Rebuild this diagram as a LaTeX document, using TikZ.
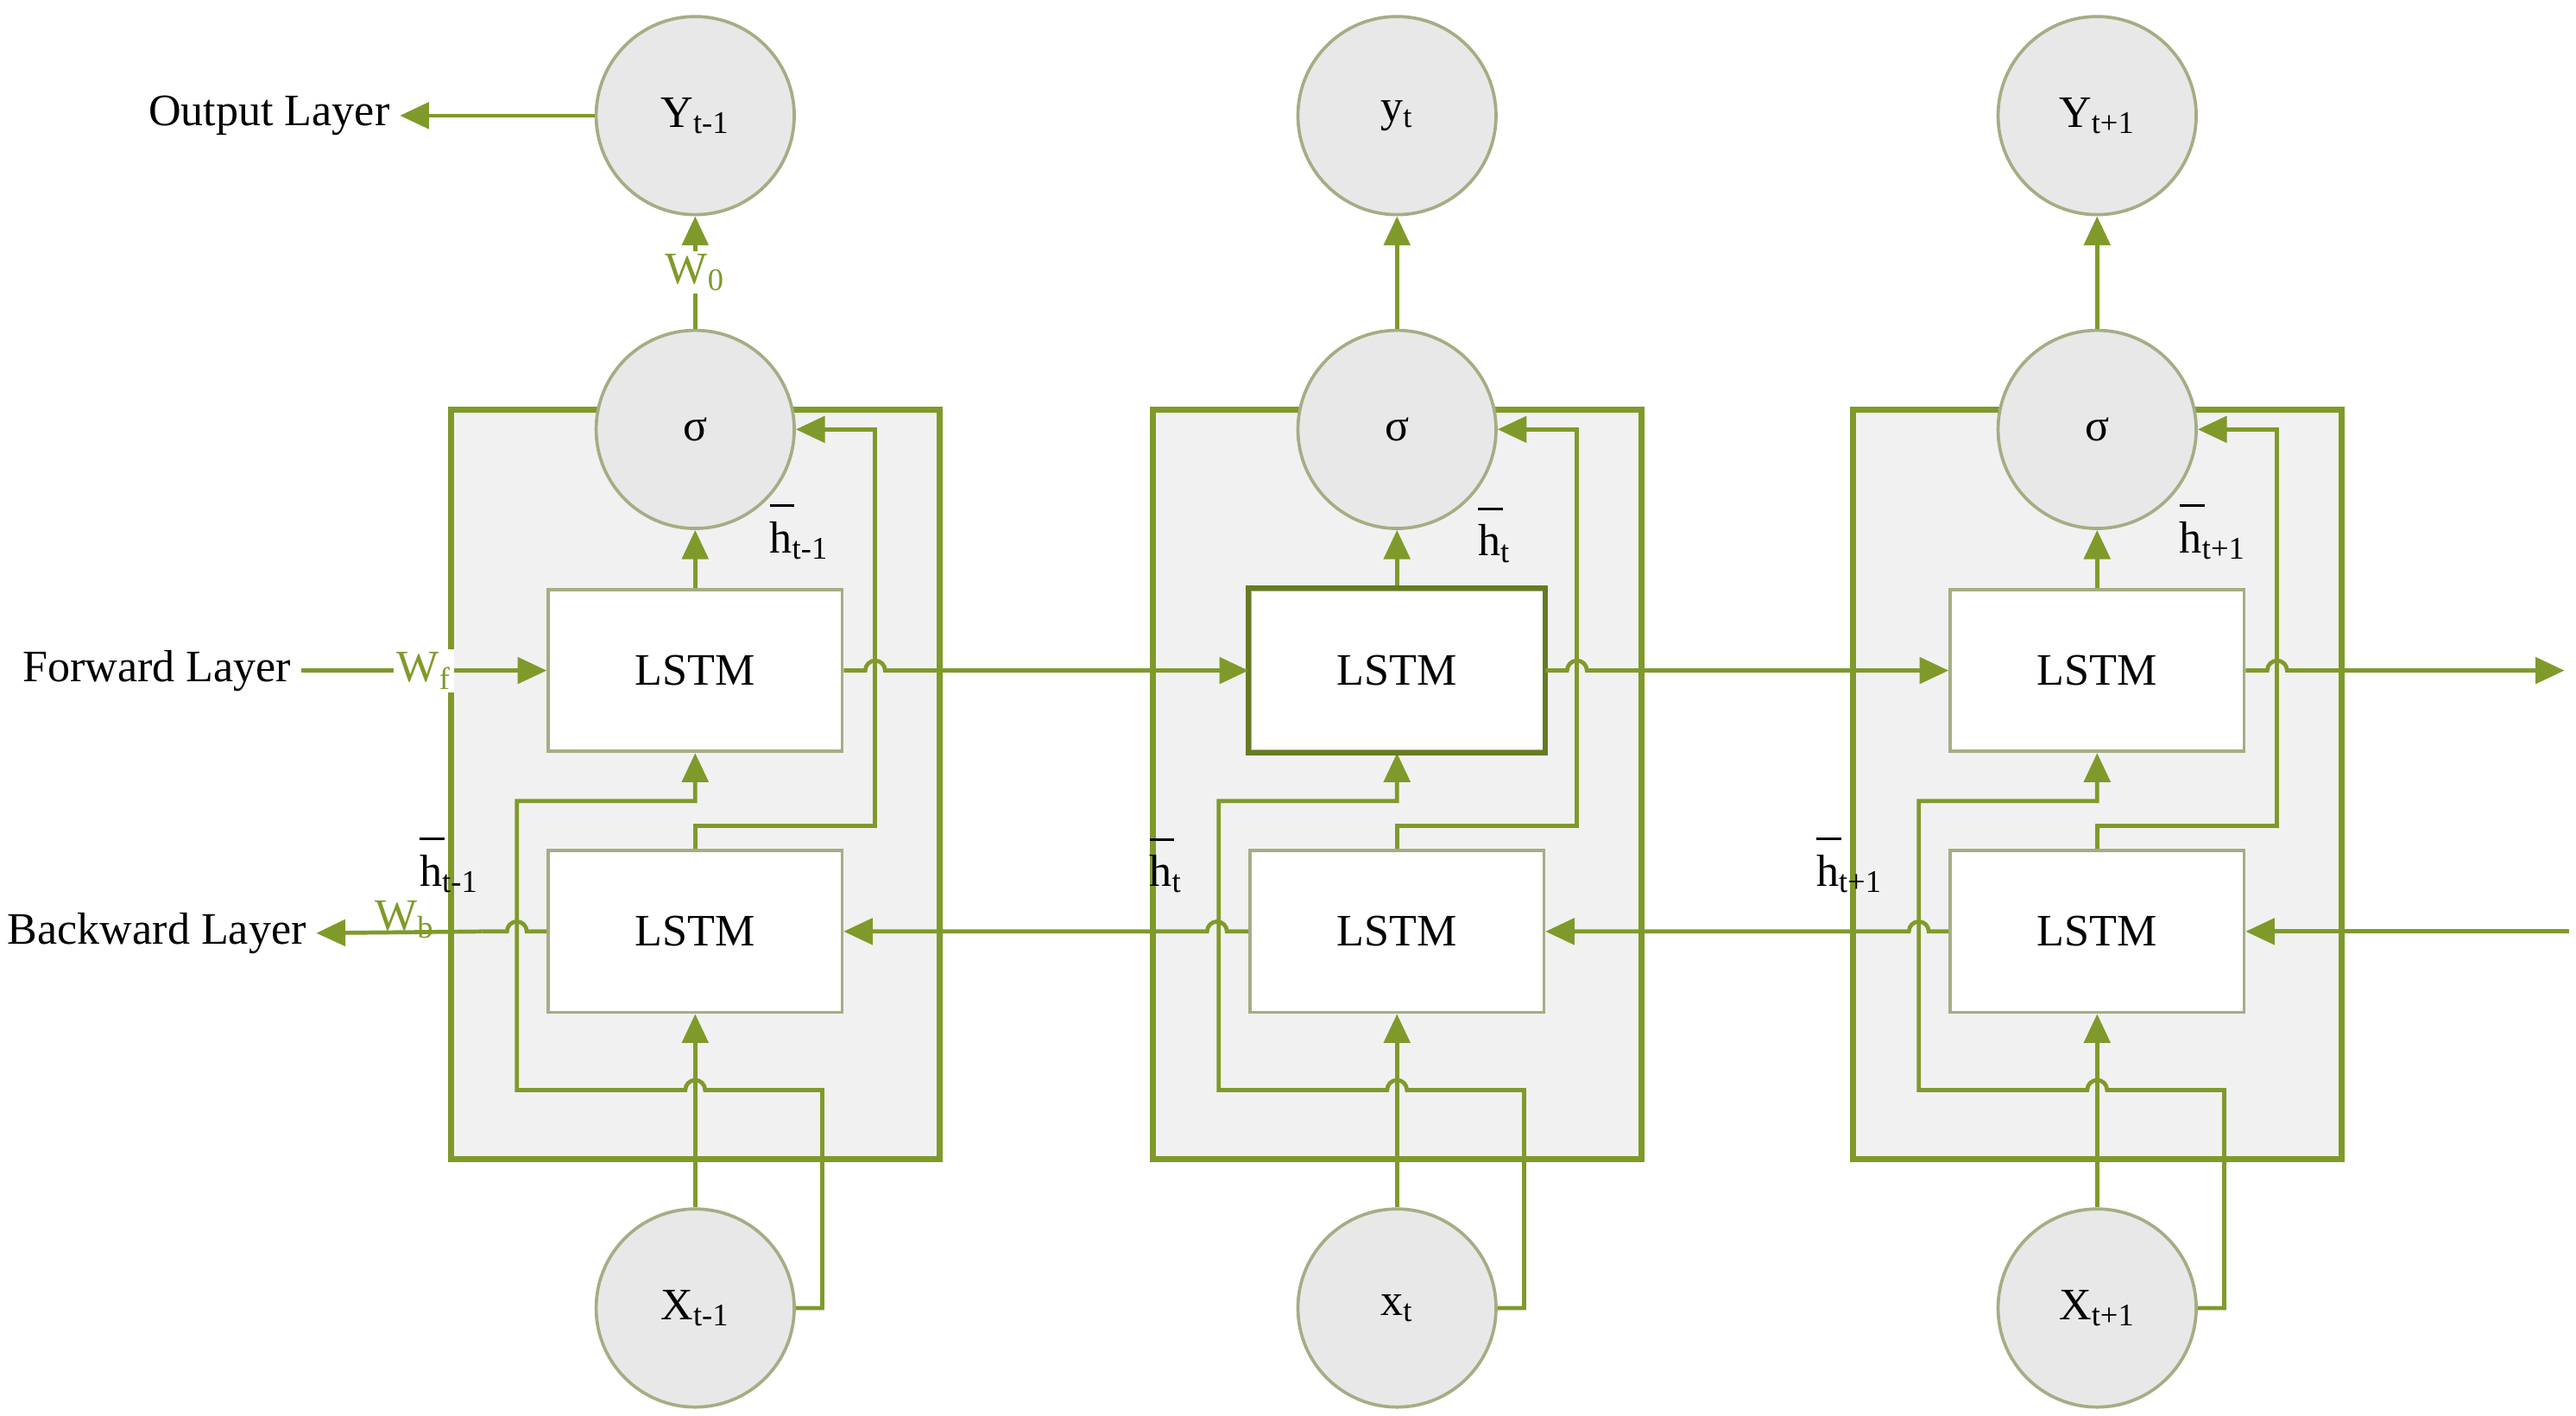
\documentclass[tikz,border=0pt]{standalone}
\usepackage{fontspec}
\setmainfont{Liberation Serif}
\usetikzlibrary{arrows.meta,positioning}
\definecolor{leaf}{HTML}{7F9A2A}
\definecolor{rim}{HTML}{A5AD84}
\definecolor{pane}{HTML}{F1F1F1}
\newcommand\hb[1]{\shortstack[l]{\rule{0.55em}{0.9pt}\\[2pt]h\textsubscript{#1}}}
\tikzset{
  frame/.style={draw=leaf,line width=2pt,fill=pane,minimum width=5.92cm,minimum height=9.08cm,inner sep=0pt},
  unit/.style={circle,draw=rim,line width=1.1pt,fill=black!9,minimum size=2.4cm,inner sep=0pt},
  cell/.style={draw=rim,line width=1.1pt,fill=white,minimum width=3.56cm,minimum height=1.96cm,inner sep=0pt},
  conn/.style={draw=leaf,line width=1.4pt},
  tip/.style={-{Triangle[length=10pt,width=9pt]}},
  wlab/.style={text=leaf,inner sep=1pt},
}
\begin{document}
\begin{tikzpicture}[x=0.02cm,y=-0.02cm,font=\fontsize{15.5}{18}\selectfont]
\useasboundingbox (0,0) rectangle (1560,857);
% three time steps
\foreach \i/\cx/\ylab/\xlab in {1/421/Y\textsubscript{t-1}/X\textsubscript{t-1},2/846/y\textsubscript{t}/x\textsubscript{t},3/1270/Y\textsubscript{t+1}/X\textsubscript{t+1}}{
  \node[frame] (P\i) at (\cx,475) {};
  \node[unit] (S\i) at (\cx,260) {σ};
  \node[unit] (Y\i) at (\cx,70) {\ylab};
  \node[unit] (X\i) at (\cx,792) {\xlab};
  \node[cell] (F\i) at (\cx,406) {LSTM};
  \node[cell] (B\i) at (\cx,564) {LSTM};
  \draw[conn,tip] (F\i) -- (S\i);
  \draw[conn,tip] (X\i) -- (B\i);
  \draw[conn,tip] (B\i.north) -- (\cx,500) -- (\cx+109,500) |- (S\i.east);
  \draw[conn,tip] (X\i.east) -| (\cx+77,660) -- (\cx+6,660) arc (360:180:6)
    -- (\cx-108,660) -- (\cx-108,485) -- (\cx,485) -- (F\i.south);
}
\draw[leaf!80!black,line width=1.8pt] (F2.south west) rectangle (F2.north east);
\draw[conn,tip] (S1) -- node[wlab,fill=white]{W\textsubscript{0}} (Y1);
\draw[conn,tip] (S2) -- (Y2);
\draw[conn,tip] (S3) -- (Y3);
% layer labels
\node (OL) at (163,70) {Output Layer};
\node (FL) at (95,406) {Forward Layer};
\node (BL) at (95,565) {Backward Layer};
\draw[conn,tip] (Y1.west) -- (OL.east);
\draw[conn,tip] (FL.east) -- node[wlab,fill=white,pos=0.5]{W\textsubscript{f}} (F1.west);
\draw[conn] (B1.west) -- (319,564) arc (360:180:6) -- (292,564);
\draw[conn,tip] (292,564) -- (BL.east);
\node[wlab] at (245,557) {W\textsubscript{b}};
% forward chain
\coordinate (FE) at (1553,406);
\coordinate (BE) at (1556,564);
\draw[conn,tip] (F1.east) -- (524,406) arc (180:360:6) -- (F2.west);
\draw[conn,tip] (F2.east) -- (949,406) arc (180:360:6) -- (F3.west);
\draw[conn,tip] (F3.east) -- (1373,406) arc (180:360:6) -- (FE);
% backward chain
\draw[conn,tip] (BE) -- (B3.east);
\draw[conn,tip] (B3.west) -- (1168,564) arc (360:180:6) -- (B2.east);
\draw[conn,tip] (B2.west) -- (743,564) arc (360:180:6) -- (B1.east);
% hidden state labels
\node at (484,322) {\hb{t-1}};
\node at (905,324) {\hb{t}};
\node at (1340,322) {\hb{t+1}};
\node at (272,524) {\hb{t-1}};
\node at (706,524) {\hb{t}};
\node at (1120,524) {\hb{t+1}};
\end{tikzpicture}
\end{document}
